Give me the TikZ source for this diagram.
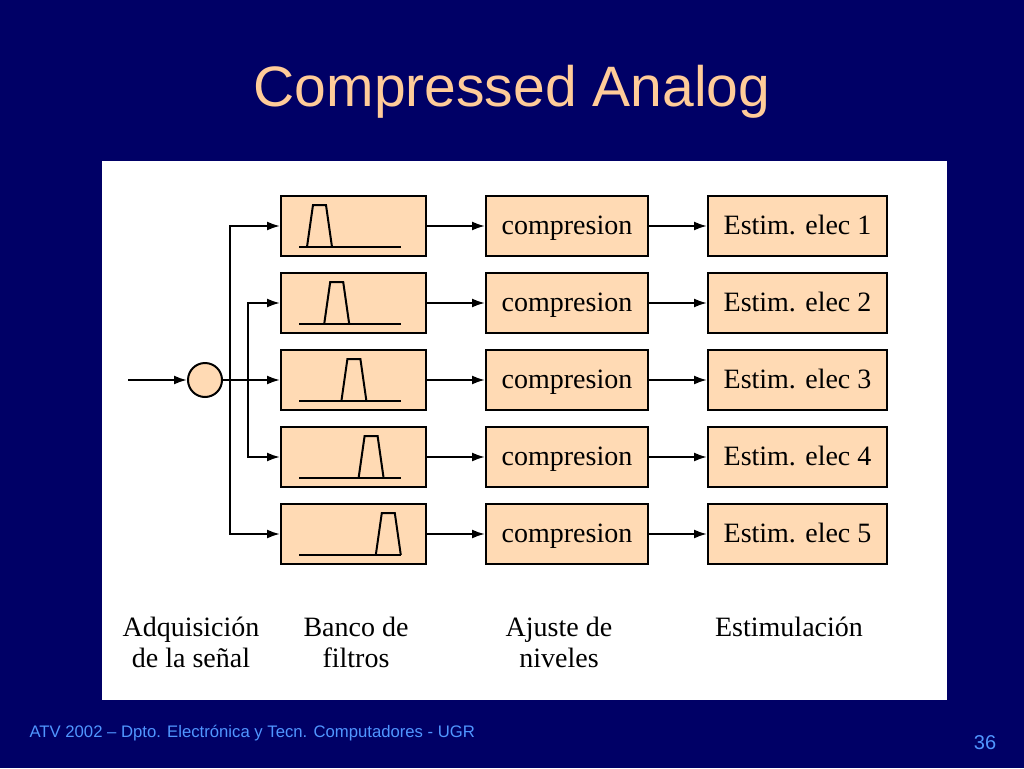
\documentclass[tikz,border=0pt]{standalone}
\usepackage{fontspec}
\setmainfont{Liberation Serif}
\newfontfamily\ars{Liberation Sans}
\usetikzlibrary{arrows.meta}
\definecolor{bg}{RGB}{0,0,102}
\definecolor{peach}{RGB}{255,218,180}
\definecolor{titlec}{RGB}{255,204,153}
\definecolor{footc}{RGB}{80,150,255}
\begin{document}
\begin{tikzpicture}[x=1pt,y=-1pt,
  box/.style={draw,fill=peach,line width=2pt,minimum height=60pt,inner sep=0pt},
  arr/.style={-{Latex[length=13pt,width=9pt]},line width=2pt},
  lbl/.style={font=\fontsize{28}{31}\selectfont,align=center},
  blbl/.style={font=\fontsize{28}{31}\selectfont,text height=23pt,text depth=6pt}]
\fill[bg] (0,0) rectangle (1024,768);
\useasboundingbox (0,0) rectangle (1024,768);
\fill[white] (102,161) rectangle (947,700);
\node[text=titlec,font=\ars\fontsize{57}{60}\selectfont] (title) at (512,92) {Compressed Analog};
\node[text=footc,font=\ars\fontsize{16.7}{18}\selectfont,anchor=west] (foot) at (26,733) {ATV 2002 – Dpto. Electrónica y Tecn. Computadores - UGR};
\node[text=footc,font=\ars\fontsize{20}{22}\selectfont] (num) at (985,743) {36};
\node[draw,fill=peach,circle,minimum size=34pt,inner sep=0pt,line width=2pt] (c) at (205,380) {};
\coordinate (in) at (128,380);
\draw[arr] (in) -- (c);
\foreach \i/\y in {1/226,2/303,3/380,4/457,5/534}{
  \node[box,minimum width=145pt] (f\i) at (353.5,\y) {};
  \node[box,minimum width=162pt,blbl] (k\i) at (567,\y) {compresion};
  \node[box,minimum width=179pt,blbl] (e\i) at (797.5,\y) {Estim. elec \i};
  \draw[arr] (f\i) -- (k\i);
  \draw[arr] (k\i) -- (e\i);
  \pgfmathsetmacro\s{(\i-1)*17.2}
  \draw[line width=2pt] (299,\y+21) -- (401,\y+21);
  \draw[line width=2pt] (307+\s,\y+21) -- (313+\s,\y-21) -- (326+\s,\y-21) -- (332+\s,\y+21);
}
\coordinate (j1) at (230,380);
\coordinate (j2) at (248,380);
\draw[arr] (c) -- (f3);
\draw[arr] (j1) |- (f1);
\draw[arr] (j1) |- (f5);
\draw[arr] (j2) |- (f2);
\draw[arr] (j2) |- (f4);
\node[lbl] (l1) at (191,642) {Adquisición\\de la señal};
\node[lbl] (l2) at (356,642) {Banco de\\filtros};
\node[lbl] (l3) at (559,642) {Ajuste de\\niveles};
\node[lbl] (l4) at (789,627) {Estimulación};
\end{tikzpicture}
\end{document}
